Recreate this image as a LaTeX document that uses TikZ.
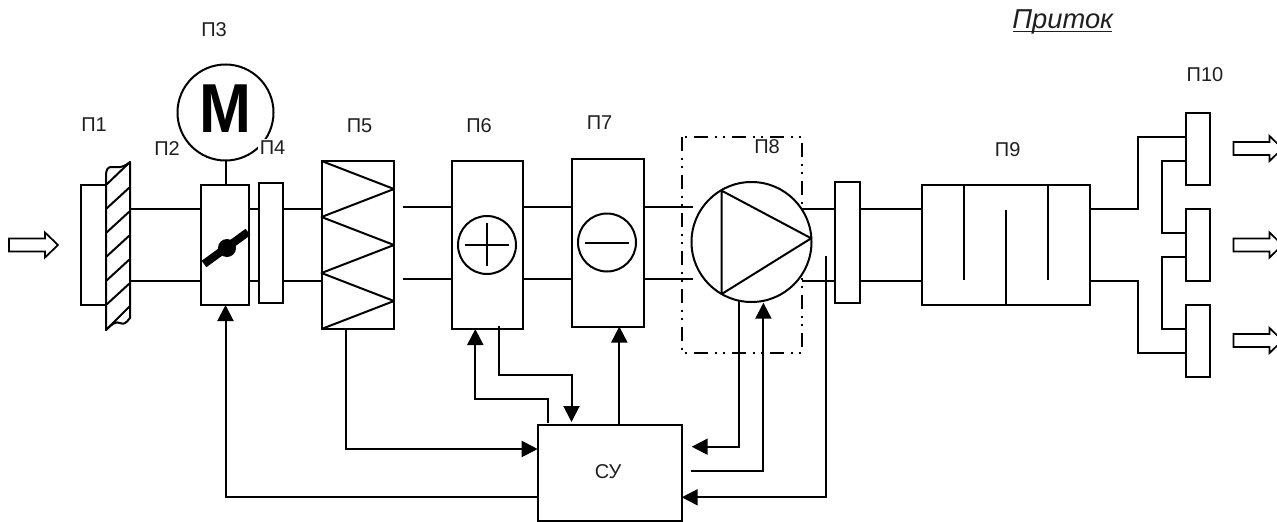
\documentclass[tikz,border=0pt]{standalone}
\usepackage{fontspec}
\setmainfont{Liberation Sans}
\usetikzlibrary{arrows.meta}
\tikzset{
  x=0.75pt,y=-0.75pt,
  ln/.style={line width=1.5pt,line join=miter},
  jn/.style={line width=1.5pt,line join=round},
  flow/.style={ln,-{Triangle[length=12pt,width=12pt]}},
  pipe/.style={ln},
  blockbox/.style={draw,line width=1.5pt,fill=white,inner sep=0pt,outer sep=0pt},
  lab/.style={font=\fontsize{15}{18}\selectfont,inner sep=0pt,text=black!88},
  labw/.style={lab,fill=white,inner sep=1.5pt},
  outflow/.style={draw,line width=1.3pt,fill=white,line join=miter},
}
\newcommand{\blockat}[5]{%
  \pgfmathsetmacro{\cxx}{(#2+#4)/2}\pgfmathsetmacro{\cyy}{(#3+#5)/2}%
  \pgfmathsetmacro{\wdd}{(#4-#2)*0.75}\pgfmathsetmacro{\htt}{(#5-#3)*0.75}%
  \node[blockbox,minimum width=\wdd pt,minimum height=\htt pt] (#1) at (\cxx,\cyy) {};}
\newcommand{\hollowarrow}[2]{%
  \path[outflow,shift={(#1,#2)}] (0,-6.5) -- (36,-6.5) -- (36,-12.5) -- (49,0) -- (36,12.5) -- (36,6.5) -- (0,6.5) -- cycle;}
\begin{document}
\begin{tikzpicture}
\useasboundingbox (0,0) rectangle (1277,521);
\clip (0,0) rectangle (1277,521);
\fill[white] (0,0) rectangle (1277,521);

% flow arrows
\hollowarrow{9}{245}
\hollowarrow{1233.5}{148.5}
\hollowarrow{1233.5}{245}
\hollowarrow{1233.5}{340.5}

% ducts and boxes
\blockat{pone}{81}{185}{106}{305}
\draw[jn] (106,175) .. controls (106,170) and (108,167) .. (111,167)
  .. controls (116,167) and (122,169) .. (130,162) -- (130,318)
  .. controls (126,323) and (124,325) .. (120,323) .. controls (116,321) and (112,324) .. (106,330) -- cycle;
\foreach \ya/\yb in {185/162,209/187,233/211,257/235,281/259,305/283,330/306}
  \draw[ln] (106,\ya) -- (130,\yb);
\coordinate (hatchr) at (130,245);

\blockat{ptwo}{201}{185}{249}{305}
\blockat{pfour}{259}{183}{283}{303}
\blockat{pfive}{321.5}{161}{394}{329}
\blockat{psix}{451.5}{161}{523}{329}
\blockat{pseven}{571.5}{158.5}{643.5}{326.5}
\blockat{pfl}{835.3}{182}{860}{302.5}
\blockat{pnine}{921.7}{185}{1090}{305}
\blockat{pta}{1186}{113}{1210}{185}
\blockat{ptb}{1186}{209}{1210}{281}
\blockat{ptc}{1186}{305}{1210}{377}
\blockat{cu}{537.7}{425}{681.7}{520.5}

% motor
\node[circle,draw,line width=1.5pt,minimum size=72pt,inner sep=0pt,outer sep=0pt] (motor) at (225.5,112.5) {};
\node[inner sep=0pt,font=\fontsize{52}{52}\selectfont\bfseries] at (225.5,108.5) {\scalebox{0.9}[1]{M}};
\draw[pipe] (motor.south) -- (motor.south |- ptwo.north);

% ducts
\foreach \yy in {209,281}{
  \draw[pipe] (hatchr |- 0,\yy) -- (ptwo.west |- 0,\yy);
  \draw[pipe] (ptwo.east |- 0,\yy) -- (pfour.west |- 0,\yy);
  \draw[pipe] (pfour.east |- 0,\yy) -- (pfive.west |- 0,\yy);
  \draw[pipe] (802,\yy) -- (pfl.west |- 0,\yy);
  \draw[pipe] (pfl.east |- 0,\yy) -- (pnine.west |- 0,\yy);
}
\foreach \yy in {206.5,278.5}{
  \draw[pipe] (403,\yy) -- (psix.west |- 0,\yy);
  \draw[pipe] (psix.east |- 0,\yy) -- (pseven.west |- 0,\yy);
  \draw[pipe] (pseven.east |- 0,\yy) -- (693,\yy);
}

% damper
\draw[line width=6pt] (204,264) -- (248,232);
\fill (227,248) circle (9);

% heater zig-zag
\draw[jn] (pfive.north west) -- (pfive.east |- 0,189) -- (pfive.west |- 0,217) -- (pfive.east |- 0,245)
  -- (pfive.west |- 0,273) -- (pfive.east |- 0,301) -- (pfive.south west);

% plus / minus
\node[circle,draw,line width=1.5pt,minimum size=43.5pt,inner sep=0pt] (plus) at (487,245) {};
\draw[ln] (465,245) -- (509,245);
\draw[ln] (487,223) -- (487,266);
\node[circle,draw,line width=1.5pt,minimum size=43.5pt,inner sep=0pt] (minus) at (607,242.5) {};
\draw[ln] (585,242.5) -- (629,242.5);

% fan housing
\draw[line width=1.5pt,dash pattern=on 10.5pt off 5pt on 1.5pt off 5pt on 1.5pt off 5pt] (682,137) rectangle (802,353);
\node[circle,draw,line width=1.5pt,fill=white,minimum size=90pt,inner sep=0pt,outer sep=0pt] (fan) at (751.5,242) {};
\draw[jn] (721.7,190.7) -- (811.2,238.3) -- (721.7,294) -- cycle;

% silencer baffles
\draw[ln] (964,185) -- (964,280);
\draw[ln] (1048,185) -- (1048,280);
\draw[ln] (1006,210) -- (1006,305);

% outlet branches
\draw[pipe] (pnine.east |- 0,209) -- (1138,209) -- (1138,137) -- (pta.west |- 0,137);
\draw[pipe] (pnine.east |- 0,281) -- (1138,281) -- (1138,353) -- (ptc.west |- 0,353);
\draw[pipe] (pta.west |- 0,161) -- (1162,161) -- (1162,233) -- (ptb.west |- 0,233);
\draw[pipe] (ptb.west |- 0,257) -- (1162,257) -- (1162,329) -- (ptc.west |- 0,329);

% control lines
\draw[flow] (345.5,0 |- pfive.south) -- (345.5,449) -- (cu.west |- 0,449);
\draw[flow] (cu.west |- 0,497) -- (225.5,497) -- (225.5,0 |- ptwo.south);
\draw[flow] (547.5,423) -- (547.5,399) -- (475.3,399) -- (475.3,0 |- psix.south);
\draw[flow] (499.3,326) -- (499.3,374.5) -- (571.5,374.5) -- (571.5,422);
\draw[flow] (619.3,0 |- cu.north) -- (619.3,0 |- pseven.south);
\draw[flow] (739.4,301) -- (739.4,446.7) -- (691.7,446.7);
\draw[flow] (690.7,470.7) -- (763.4,470.7) -- (763.4,302.7);
\coordinate (sense) at (825.7,256);
\draw[flow] (sense) -- (sense |- 0,497.3) -- (cu.east |- 0,497.3);

% labels
\node[lab] (lp1) at (94,125) {П1};
\node[labw] (lp2) at (167,149) {П2};
\node[lab] (lp3) at (214,30) {П3};
\node[labw] (lp4) at (272.5,147.5) {П4};
\node[lab] (lp5) at (359.5,125.5) {П5};
\node[lab] (lp6) at (479,125.5) {П6};
\node[lab] (lp7) at (599.5,122.5) {П7};
\node[lab] (lp8) at (767,146.7) {П8};
\node[lab] (lp9) at (1007.7,150) {П9};
\node[lab] (lp10) at (1205,75) {П10};
\node[lab] (lcu) at (608,472) {СУ};
\node[inner sep=0pt,text=black!88,font=\fontsize{20.5}{24}\selectfont\itshape,anchor=base] (ttl) at (1062.7,28.5) {Приток};
\draw[line width=1pt,black!88] (1013,31.5) -- (1112,31.5);
\end{tikzpicture}
\end{document}
